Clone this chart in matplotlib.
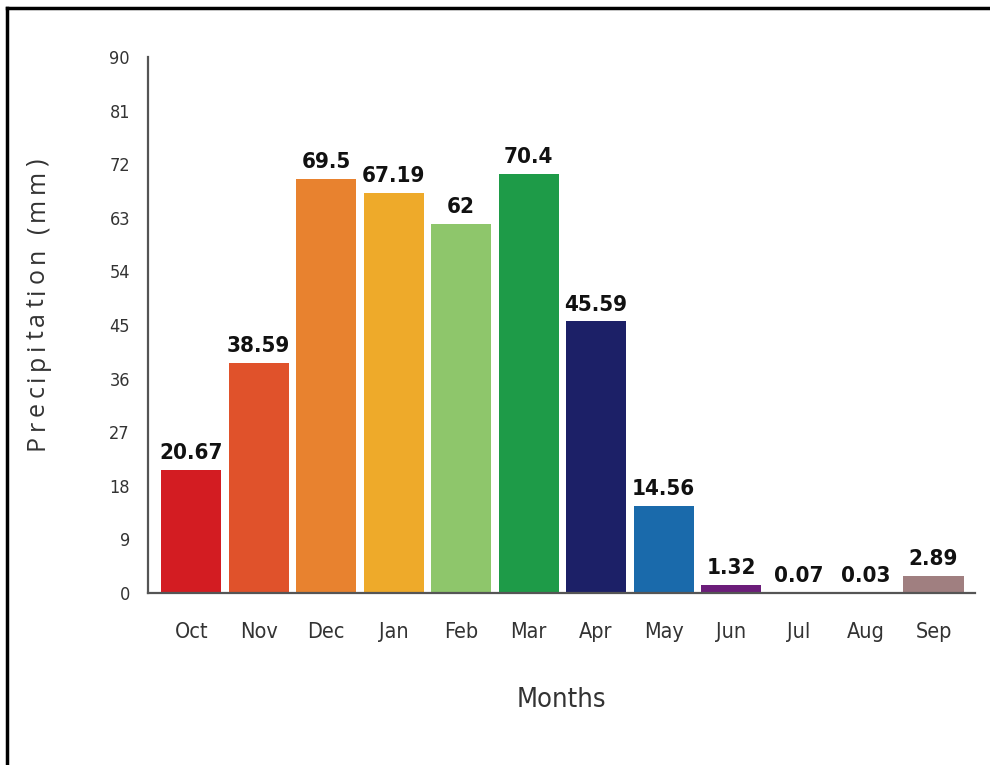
import matplotlib
matplotlib.use("Agg")
import matplotlib.pyplot as plt
from matplotlib.lines import Line2D
from matplotlib.font_manager import FontProperties

months = ["Oct", "Nov", "Dec", "Jan", "Feb", "Mar", "Apr", "May", "Jun", "Jul", "Aug", "Sep"]
precip = [20.67, 38.59, 69.5, 67.19, 62, 70.4, 45.59, 14.56, 1.32, 0.07, 0.03, 2.89]
value_labels = ["20.67", "38.59", "69.5", "67.19", "62", "70.4", "45.59", "14.56", "1.32", "0.07", "0.03", "2.89"]
bar_colors = ["#d31c22", "#e0522b", "#e8822f", "#eeaa2a", "#8ec66b", "#1e9b48",
              "#1c2067", "#1a6aab", "#6c1d7a", "#555555", "#555555", "#a07f80"]
y_ticks = list(range(0, 91, 9))
y_title = "Precipitation (mm)"

cond = dict(family="DejaVu Sans", fontstretch="condensed")

fig = plt.figure(figsize=(9.9, 7.65), dpi=100)
ax = fig.add_axes([0.1495, 0.2248, 0.835, 0.7007])

x = list(range(len(months)))
ax.bar(x, precip, width=0.89, color=bar_colors, zorder=2)

for xi, v, lab in zip(x, precip, value_labels):
    ax.annotate(lab, (xi, v), xytext=(0, 5), textcoords="offset points",
                ha="center", va="bottom", fontsize=16, fontweight="bold",
                color="#111111", **cond)

ax.set_xlim(-0.64, 11.61)
ax.set_ylim(0, 90)
ax.set_yticks(y_ticks)
ax.set_xticks(x)
ax.set_xticklabels(months, fontsize=15.5, color="#333333", **cond)
ax.set_yticklabels([str(t) for t in y_ticks], fontsize=13, color="#333333", **cond)
ax.tick_params(axis="both", length=0)
ax.tick_params(axis="x", pad=21)
ax.tick_params(axis="y", pad=13)

for s in ("top", "right"):
    ax.spines[s].set_visible(False)
for s in ("left", "bottom"):
    ax.spines[s].set_color("#555555")
    ax.spines[s].set_linewidth(1.6)

ax.set_xlabel("Months", fontsize=19.5, color="#333333", labelpad=32, **cond)

# y-axis title with widened letter spacing, set character by character
renderer = fig.canvas.get_renderer()
fp = FontProperties(family=["Open Sans", "DejaVu Sans"], size=18)
widths = [renderer.get_text_width_height_descent(ch, fp, ismath=False)[0] for ch in y_title]
span_px = 292.0
bottom_px = 765 - 450
track = max(0.0, (span_px - sum(widths)) / (len(y_title) - 1))
cursor = bottom_px
for ch, w in zip(y_title, widths):
    fig.text(44 / 990, cursor / 765, ch, rotation=90, rotation_mode="anchor",
             ha="left", va="baseline", fontproperties=fp, color="#333333")
    cursor += w + track

# frame lines along the top and left edges
fig.add_artist(Line2D([0.007, 1.0], [0.9895, 0.9895], color="black", lw=2.5, transform=fig.transFigure))
fig.add_artist(Line2D([0.0075, 0.0075], [0.0, 0.9895], color="black", lw=2.5, transform=fig.transFigure))

fig.savefig("out.png", dpi=100)
